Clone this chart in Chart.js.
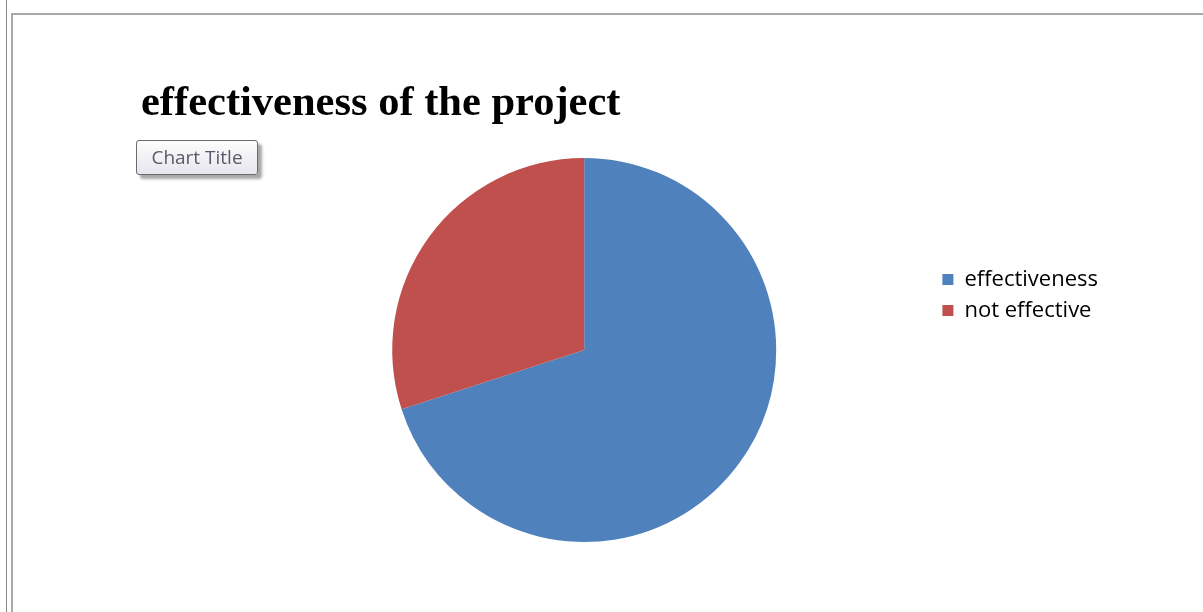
<!DOCTYPE html>
<html>
<head>
<meta charset="utf-8">
<script src="https://cdn.jsdelivr.net/npm/chart.js@4"></script>
<style>
  html, body { margin: 0; padding: 0; background: #fff; }
  body { width: 1203px; height: 612px; position: relative; overflow: hidden; }
  #outer { position: absolute; left: 6px; top: 0; width: 1px; height: 612px; background: #8a8a8a; }
  #frame { position: absolute; left: 11px; top: 13px; width: 1200px; height: 610px;
           border-left: 2px solid #a8a8a8; border-top: 2px solid #a8a8a8; }
  #title { position: absolute; left: 141px; top: 76px; margin: 0;
           font: bold 42.5px "Liberation Serif", "Times New Roman", serif; color: #000;
           white-space: nowrap; }
  #tag { position: absolute; left: 136px; top: 140px; width: 122px; height: 35px;
         border: 1px solid #6b6b6b; border-radius: 3px; box-sizing: border-box;
         background: linear-gradient(#fdfdfd, #e6e6ee);
         box-shadow: 4px 4px 3px rgba(0,0,0,0.35);
         font: 19px "Open Sans", sans-serif; color: #5a5a6a;
         text-align: center; line-height: 33px; }
  #wrap { position: absolute; left: 0; top: 0; width: 1203px; height: 612px; }
</style>
</head>
<body>
<div id="outer"></div>
<div id="frame"></div>
<div id="wrap"><canvas id="chart"></canvas></div>
<h1 id="title">effectiveness of the project</h1>
<div id="tag">Chart Title</div>
<script>
const categories = ["effectiveness", "not effective"];
const shares = [70, 30];
const colors = ["#4F81BD", "#C0504D"];

// legend sits higher than the pie centre in the original
const legendLift = {
  id: "legendLift",
  afterLayout(chart) {
    chart.legend.top -= 55;
    chart.legend.bottom -= 55;
  }
};

function renderChart() {
  const ctx = document.getElementById("chart").getContext("2d");
  new Chart(ctx, {
    type: "pie",
    data: {
      labels: categories,
      datasets: [{
        data: shares,
        backgroundColor: colors,
        borderWidth: 0
      }]
    },
    options: {
      responsive: true,
      maintainAspectRatio: false,
      animation: false,
      layout: { padding: { top: 158, bottom: 70, left: 235, right: 95 } },
      plugins: {
        title: { display: false },
        tooltip: { enabled: false },
        legend: {
          position: "right",
          align: "center",
          labels: {
            boxWidth: 11,
            boxHeight: 11,
            padding: 9,
            color: "#000",
            font: { family: "'Open Sans', sans-serif", size: 22 }
          }
        }
      }
    },
    plugins: [legendLift]
  });
}

document.addEventListener("DOMContentLoaded", renderChart);
</script>
</body>
</html>
